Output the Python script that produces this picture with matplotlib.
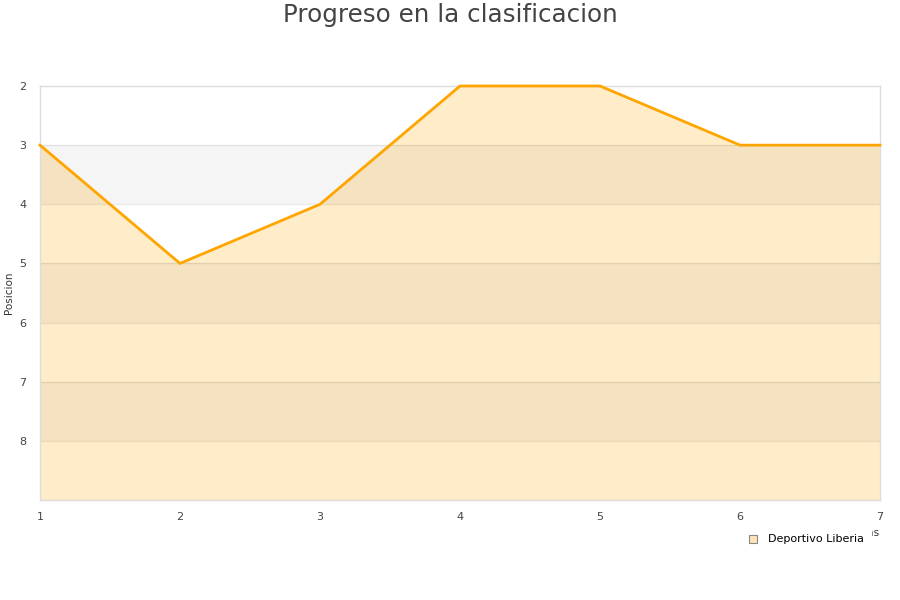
import matplotlib.pyplot as plt
from matplotlib.lines import Line2D

# datos
jornadas = [1, 2, 3, 4, 5, 6, 7]
posicion = [3, 5, 4, 2, 2, 3, 3]
equipo = "Deportivo Liberia"
titulo = "Progreso en la clasificacion"

fig = plt.figure(figsize=(9, 6), dpi=100)
ax = fig.add_axes([40 / 900, 100 / 600, 840 / 900, 414 / 600])

# relleno bajo la linea hasta el fondo (eje invertido)
ax.fill_between(jornadas, posicion, 9, color="#FFECC8", zorder=1, linewidth=0)

# franjas grises alternas
for y0 in [3, 5, 7]:
    ax.axhspan(y0, y0 + 1, color="black", alpha=0.04, zorder=2, linewidth=0)
for y in range(3, 9):
    ax.axhline(y, color="#000000", alpha=0.08, linewidth=1, zorder=2)

ax.plot(jornadas, posicion, color="#FFA500", linewidth=2, zorder=3, clip_on=False)

ax.set_xlim(1, 7)
ax.set_ylim(9, 2)
ax.set_yticks(range(2, 9))
ax.set_xticks(jornadas)
ax.tick_params(axis="both", length=0, labelsize=8, colors="#444444")
ax.tick_params(axis="y", pad=10)
ax.tick_params(axis="x", pad=9)
for s in ax.spines.values():
    s.set_color("#DDDDDD")
    s.set_linewidth(1)

ax.set_ylabel("Posicion", fontsize=7.5, color="#333333")
ax.yaxis.set_label_coords(-0.031, 0.5)
ax.set_xlabel("Jornadas", fontsize=7.5, color="#333333")
ax.xaxis.set_label_coords(1.0, -0.067)
ax.xaxis.label.set_horizontalalignment("right")

fig.suptitle(titulo, fontsize=17.7, color="#444444", y=0.995, va="top")

# la leyenda tapa casi todo el titulo del eje x, como en el original
handle = Line2D([], [], marker="s", linestyle="none", markersize=6,
                markerfacecolor="#FFE4B5", markeredgecolor="#888888", markeredgewidth=0.8)
leg = fig.legend([handle], [equipo], loc="upper right", bbox_to_anchor=(0.9676, 0.1203),
                 frameon=True, fontsize=8, handletextpad=0.4, borderpad=0.6,
                 borderaxespad=0)
leg.get_frame().set_edgecolor("white")
leg.get_frame().set_facecolor("white")
leg.get_frame().set_alpha(1)
leg.set_zorder(10)

fig.savefig("out.png", dpi=100)
